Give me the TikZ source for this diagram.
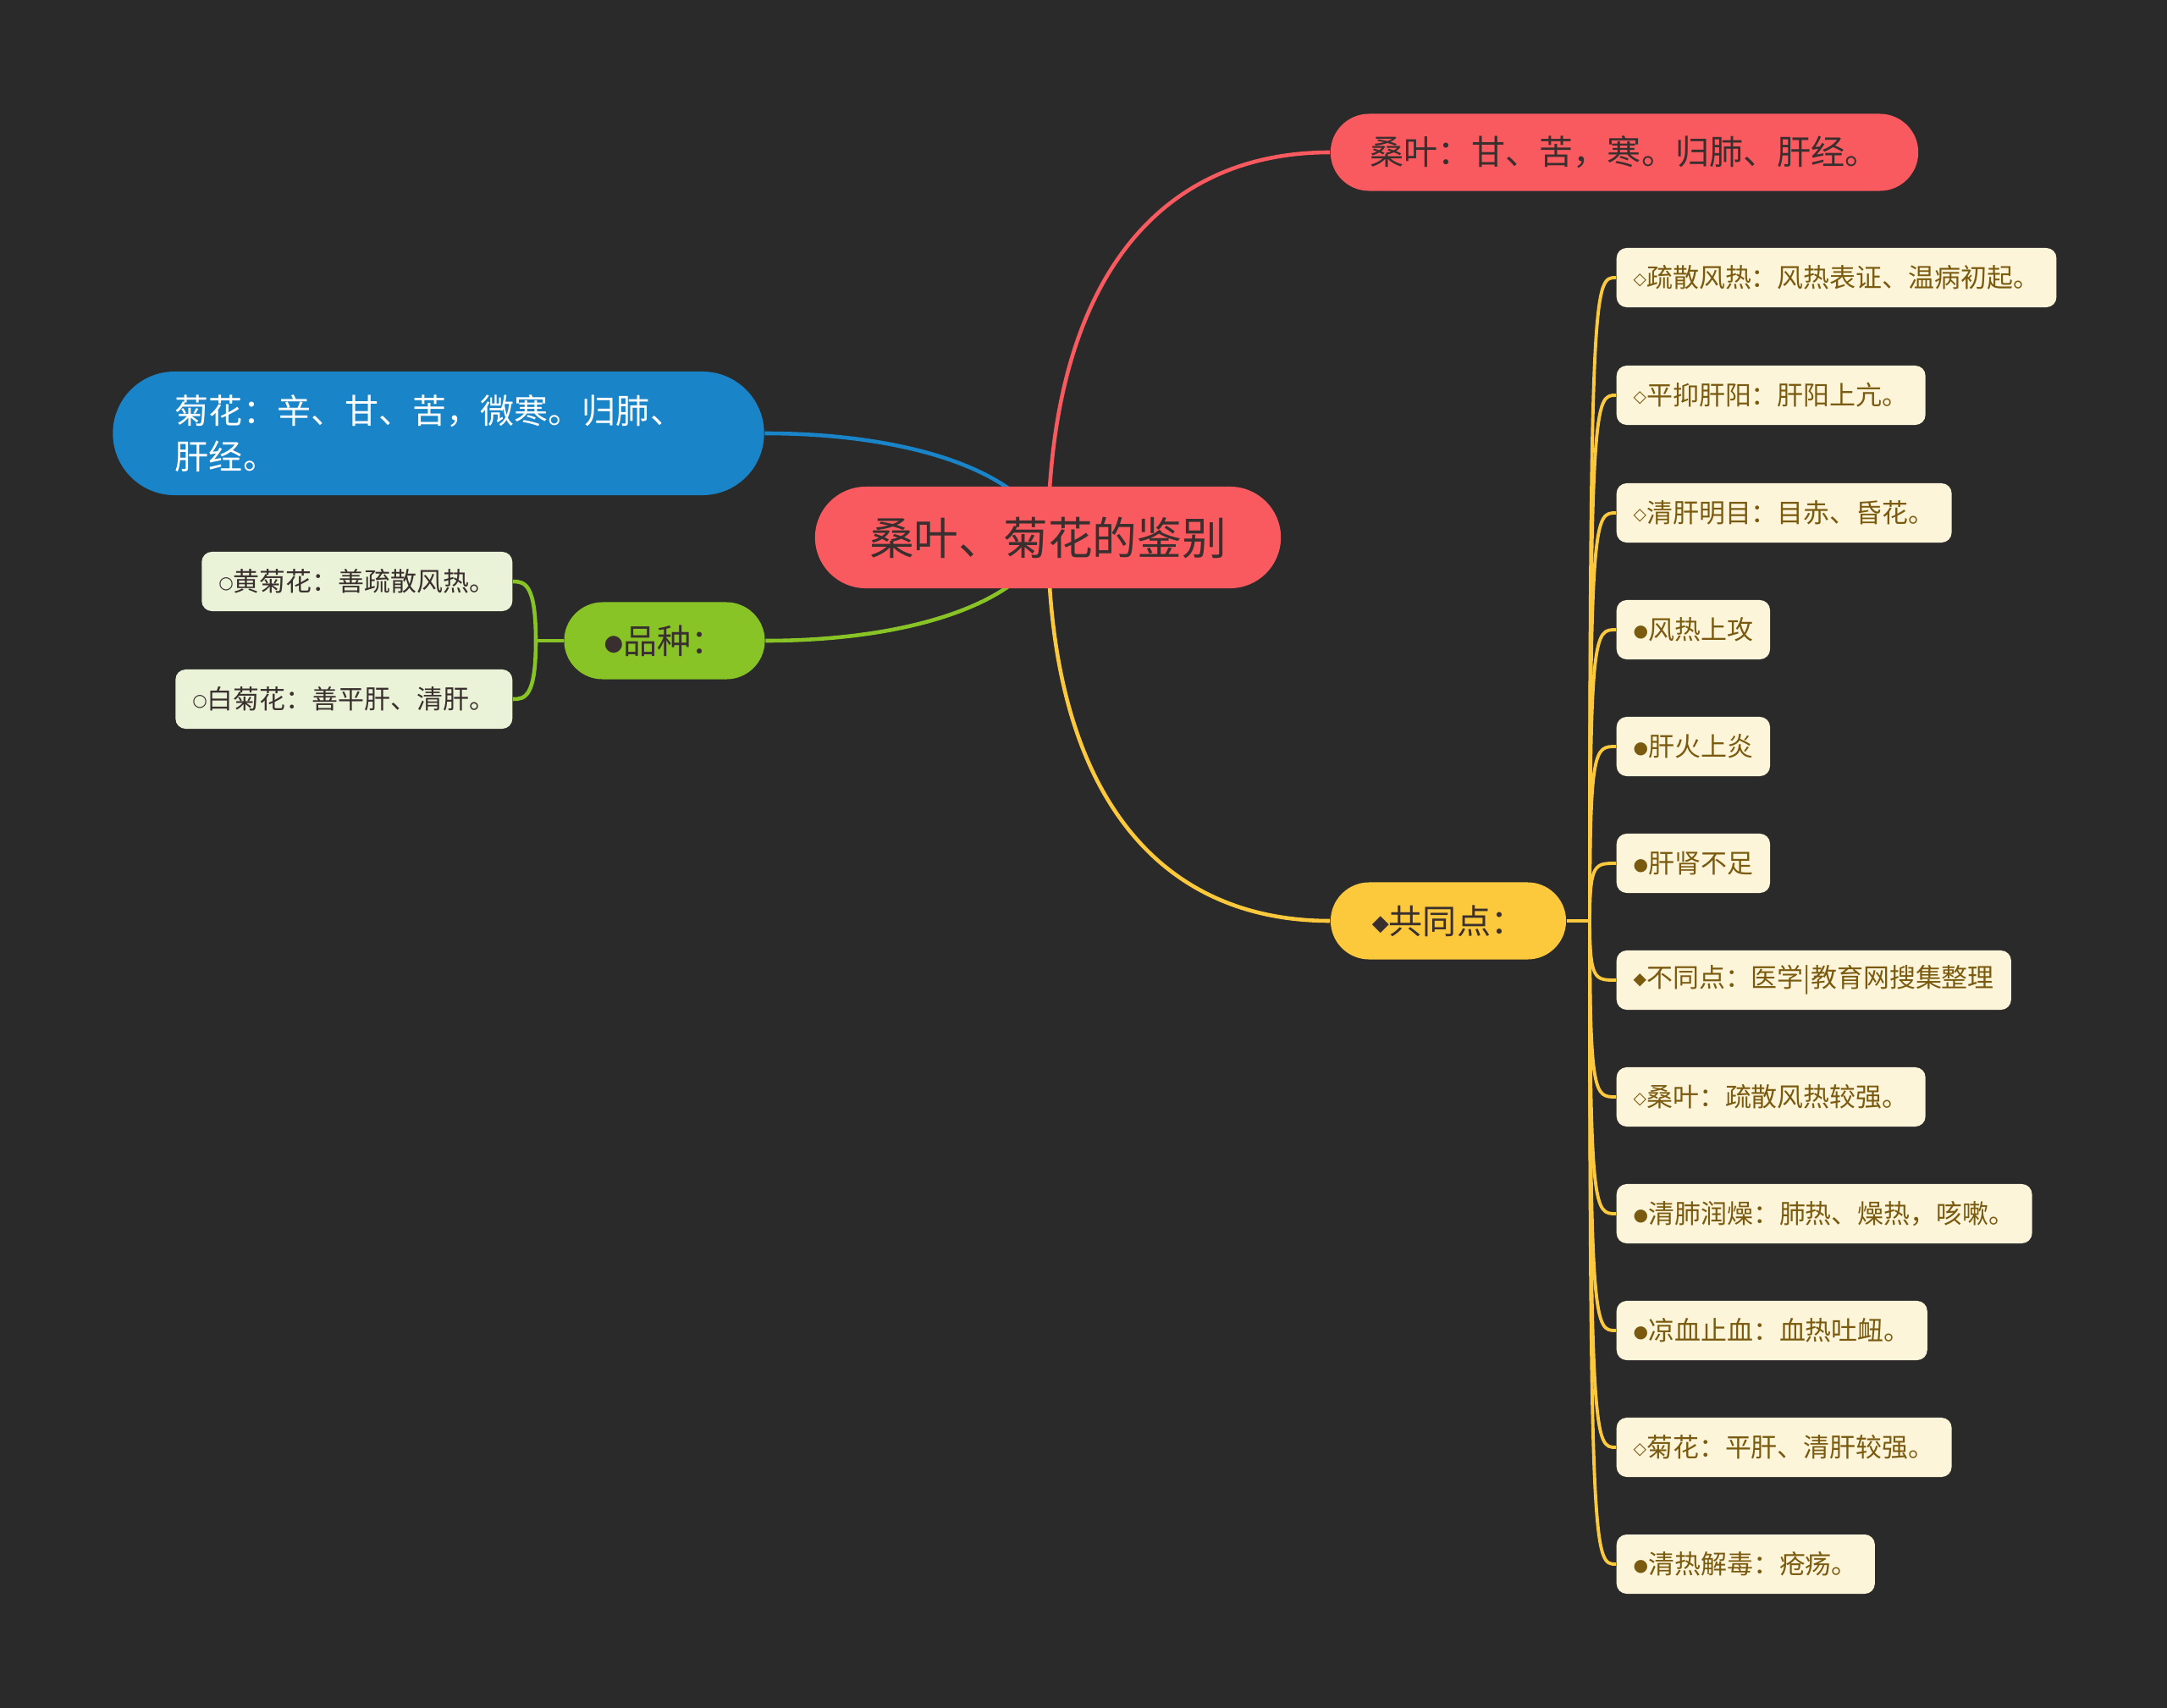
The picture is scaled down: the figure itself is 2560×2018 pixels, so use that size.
\documentclass[tikz,border=0pt]{standalone}
\usepackage{fontspec}
\usepackage{graphicx}
\setmainfont{Noto Sans CJK SC}
\newfontfamily\symfont{DejaVu Sans}

\definecolor{bgdark}{HTML}{2A2A2A}
\definecolor{rootred}{HTML}{F95A5F}
\definecolor{inkdark}{HTML}{3A2F2F}
\definecolor{skyblue}{HTML}{1A84C8}
\definecolor{leafgreen}{HTML}{88C425}
\definecolor{palegreen}{HTML}{EAF3D7}
\definecolor{sunyellow}{HTML}{FCC93C}
\definecolor{cream}{HTML}{FDF5DA}
\definecolor{umber}{HTML}{7A5A0F}

% small bullet in front of a label
\newcommand\mk[1]{\raisebox{.1em}{\scalebox{.65}{\symfont #1}}}

\pgfdeclarelayer{under}
\pgfsetlayers{under,main}

\begin{document}
\begin{tikzpicture}[
    x=0.01cm, y=-0.01cm,
    pill/.style={rectangle, inner sep=0pt, align=center},
    rootbox/.style={pill, fill=rootred, text=inkdark,
                    minimum width=5.5cm, minimum height=1.2cm,
                    rounded corners=0.6cm, font=\fontsize{15}{18}\selectfont},
    mainbox/.style={pill, minimum height=0.91cm, rounded corners=0.455cm,
                    font=\fontsize{11.4}{15.4}\selectfont},
    leafbox/.style={rectangle, rounded corners=0.12cm, inner xsep=0.2cm,
                    inner ysep=0pt, minimum height=0.7cm,
                    font=\fontsize{8.8}{10}\selectfont},
    link/.style={line width=1.3pt},
    ylink/.style={sunyellow, line width=1.1pt}
]

% =========================================================
% CENTRE AND MAIN TOPICS
% =========================================================
\node[rootbox] (root) at (1238,635) {桑叶、菊花的鉴别};

\node[mainbox, fill=rootred, text=inkdark, minimum width=6.94cm]
      (sangye) at (1919,180) {桑叶：甘、苦，寒。归肺、肝经。};
\node[mainbox, fill=skyblue, text=white, minimum width=7.69cm,
      minimum height=1.46cm, rounded corners=0.73cm, text width=6.22cm, align=left]
      (juhua) at (518,512) {菊花：辛、甘、苦，微寒。归肺、\\肝经。};
\node[mainbox, fill=leafgreen, text=inkdark, minimum width=2.37cm]
      (pinzhong) at (785,757) {\mk{●}品种：};
\node[mainbox, fill=sunyellow, text=inkdark, minimum width=2.78cm]
      (gongtong) at (1711,1088) {\mk{◆}共同点：};

% =========================================================
% LEAVES
% =========================================================
\node[leafbox, fill=palegreen, text=inkdark, anchor=east]
      (huang) at (606,687) {\mk{○}黄菊花：善疏散风热。};
\node[leafbox, fill=palegreen, text=inkdark, anchor=east]
      (bai) at (606,826) {\mk{○}白菊花：善平肝、清肝。};

\foreach \i/\yy/\txt in {
    1/328/\mk{◇}疏散风热：风热表证、温病初起。,
    2/467/\mk{◇}平抑肝阳：肝阳上亢。,
    3/606/\mk{◇}清肝明目：目赤、昏花。,
    4/744/\mk{●}风热上攻,
    5/882/\mk{●}肝火上炎,
    6/1020/\mk{●}肝肾不足,
    7/1158/\mk{◆}不同点：医学|教育网搜集整理,
    8/1296/\mk{◇}桑叶：疏散风热较强。,
    9/1434/\mk{●}清肺润燥：肺热、燥热，咳嗽。,
    10/1572/\mk{●}凉血止血：血热吐衄。,
    11/1710/\mk{◇}菊花：平肝、清肝较强。,
    12/1848/\mk{●}清热解毒：疮疡。}
  \node[leafbox, fill=cream, text=umber, anchor=west] (l\i) at (1909,\yy) {\txt};

% =========================================================
% CONNECTORS (behind the boxes)
% =========================================================
\begin{pgfonlayer}{under}
  \fill[bgdark] (0,0) rectangle (2560,2018);

  \draw[link, rootred] (root.center) .. controls (1240,330) and (1370,180) .. (sangye.west);
  \draw[link, sunyellow] (root.center) .. controls (1240,940) and (1370,1088) .. (gongtong.west);
  \draw[link, skyblue] (juhua.east) .. controls (1080,512) and (1215,560) .. (root.center);
  \draw[link, leafgreen] (pinzhong.east) .. controls (1080,757) and (1215,710) .. (root.center);

  % green bracket
  \coordinate (jg) at (633,757);
  \draw[link, leafgreen] (pinzhong.west) -- (jg);
  \draw[link, leafgreen] (jg) .. controls (633,690) and (620,687) .. (huang.east);
  \draw[link, leafgreen] (jg) .. controls (633,824) and (620,826) .. (bai.east);

  % yellow fan
  \coordinate (jy) at (1878,1088);
  \draw[ylink] (gongtong.east) -- (jy);
  \foreach \i/\yy in {1/328,2/467,3/606,4/744,5/882,6/1020,
                      7/1158,8/1296,9/1434,10/1572,11/1710,12/1848}
    \draw[ylink] (jy) .. controls (1878,\yy) and (1884,\yy) .. (l\i.west);
\end{pgfonlayer}

\end{tikzpicture}
\end{document}
